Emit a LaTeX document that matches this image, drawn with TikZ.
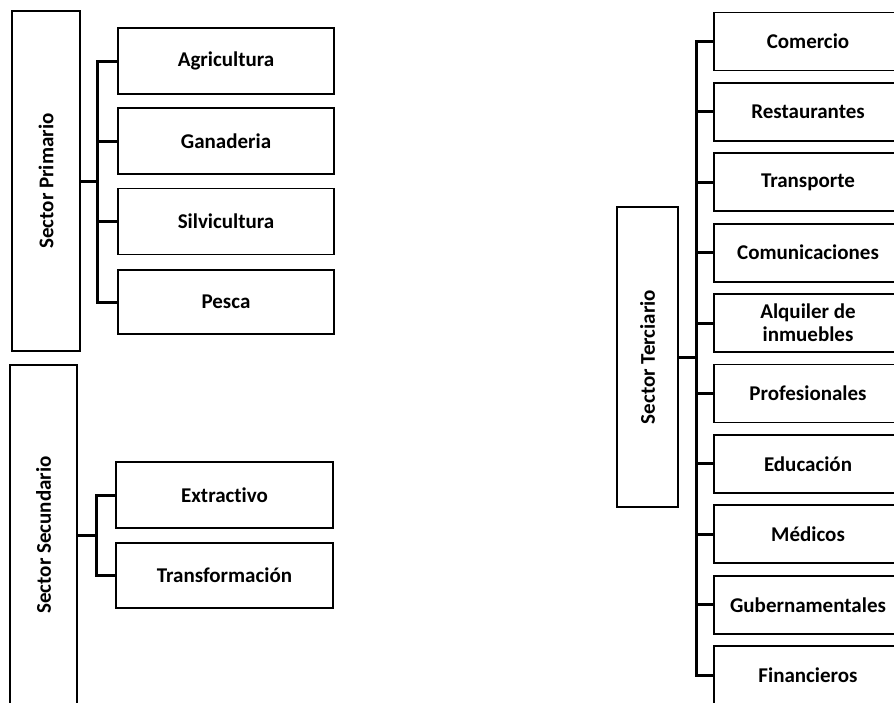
\documentclass[tikz,border=0pt]{standalone}
\usepackage{fontspec}
\setmainfont{Carlito}[RawFeature={-liga;-dlig}]
\begin{document}
\begin{tikzpicture}[x=1pt,y=-1pt,
  box/.style={draw=black,line width=1.8pt,rectangle,inner sep=0pt,align=center,
    font=\fontsize{21}{23}\selectfont\bfseries},
  leftchild/.style={box,minimum width=216pt,minimum height=66pt},
  rightchild/.style={box,minimum width=188pt,minimum height=58pt},
  conn/.style={draw=black,line width=3pt,line join=miter}]
\useasboundingbox (0,0) rectangle (894,702);
\clip (0,0) rectangle (894,702);
% Sector Primario
\node[box,minimum width=68pt,minimum height=340pt] (p1) at (46,181) {};
\node[rotate=90,font=\fontsize{21}{23}\selectfont\bfseries] (p1t) at (46,181) {Sector Primario};
\node[leftchild] (agr) at (226,61) {Agricultura};
\node[leftchild] (gan) at (226,141) {Ganaderia};
\node[leftchild] (sil) at (226,221.5) {Silvicultura};
\node[leftchild,minimum height=64pt] (pes) at (226,302) {Pesca};
\coordinate (b1) at (97,181);
\foreach \c in {agr,gan,sil,pes}{\draw[conn] (p1.east) -- (b1) |- (\c.west);}
% Sector Secundario
\node[box,minimum width=67pt,minimum height=340pt] (p2) at (43.5,535) {};
\node[rotate=90,font=\fontsize{21}{23}\selectfont\bfseries] (p2t) at (43.5,535) {Sector Secundario};
\node[leftchild,minimum width=217pt] (ext) at (224.5,495) {Extractivo};
\node[leftchild,minimum width=217pt,minimum height=65pt] (tra) at (224.5,575.5) {Transformación};
\coordinate (b2) at (96,535);
\foreach \c in {ext,tra}{\draw[conn] (p2.east) -- (b2) |- (\c.west);}
% Sector Terciario
\node[box,minimum width=61pt,minimum height=300pt] (p3) at (647.5,357) {};
\node[rotate=90,font=\fontsize{21}{23}\selectfont\bfseries] (p3t) at (647.5,357) {Sector Terciario};
\node[rightchild] (com) at (808,41.5) {Comercio};
\node[rightchild] (res) at (808,111.9) {Restaurantes};
\node[rightchild] (trn) at (808,182.3) {Transporte};
\node[rightchild] (cmn) at (808,252.7) {Comunicaciones};
\node[rightchild] (alq) at (808,323.1) {Alquiler de\\inmuebles};
\node[rightchild] (pro) at (808,393.5) {Profesionales};
\node[rightchild] (edu) at (808,463.9) {Educación};
\node[rightchild] (med) at (808,534.3) {Médicos};
\node[rightchild] (gub) at (808,604.7) {Gubernamentales};
\node[rightchild] (fin) at (808,675.1) {Financieros};
\coordinate (b3) at (696,357);
\foreach \c in {com,res,trn,cmn,alq,pro,edu,med,gub,fin}{\draw[conn] (p3.east) -- (b3) |- (\c.west);}
\end{tikzpicture}
\end{document}
